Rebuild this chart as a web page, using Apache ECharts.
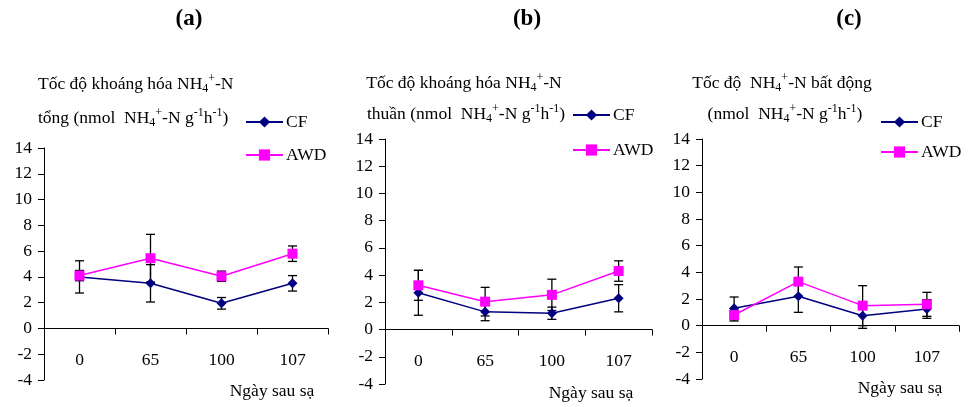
<!DOCTYPE html>
<html>
<head>
<meta charset="utf-8">
<script src="https://cdn.jsdelivr.net/npm/echarts@6/dist/echarts.min.js"></script>
<style>
html,body{margin:0;padding:0;background:#fff;}
#chart{width:968px;height:407px;}
</style>
</head>
<body>
<div id="chart"></div>
<script>
// ---- data ----
var categories = ['0', '65', '100', '107'];
var yTicks = { min: -4, max: 14, interval: 2 };

var cfA = [4.0, 3.5, 1.95, 3.5];
var cfAErr = [1.25, 1.45, 0.45, 0.6];
var awdA = [4.1, 5.45, 4.05, 5.8];
var awdAErr = [0.4, 1.85, 0.4, 0.6];

var cfB = [2.7, 1.3, 1.2, 2.3];
var cfBErr = [1.65, 0.65, 0.45, 1.0];
var awdB = [3.25, 2.05, 2.55, 4.3];
var awdBErr = [1.1, 1.05, 1.15, 0.75];

var cfC = [1.3, 2.2, 0.75, 1.25];
var cfCErr = [0.85, 1.2, 0.95, 0.7];
var awdC = [0.8, 3.3, 1.5, 1.6];
var awdCErr = [0.45, 1.1, 1.5, 0.9];

var panelLetters = ['(a)', '(b)', '(c)'];
var xName = 'Ngày sau sạ';

// ---- styling ----
var FONT = '"Liberation Serif", "Times New Roman", serif';
var CF_COLOR = '#000080';
var AWD_COLOR = '#FF00FF';

var grids = [
  { left: 44, top: 148, width: 284, height: 232 },
  { left: 385, top: 139, width: 267, height: 245 },
  { left: 702, top: 139, width: 257, height: 240 }
];

var panels = [
  { cf: cfA, cfErr: cfAErr, awd: awdA, awdErr: awdAErr },
  { cf: cfB, cfErr: cfBErr, awd: awdB, awdErr: awdBErr },
  { cf: cfC, cfErr: cfCErr, awd: awdC, awdErr: awdCErr }
];

var richStyle = {
  sub: { fontFamily: FONT, fontSize: 12, verticalAlign: 'bottom', lineHeight: 22, color: '#000' },
  sup: { fontFamily: FONT, fontSize: 12, verticalAlign: 'top', lineHeight: 22, color: '#000' }
};

function titleLine(text, left, top, align) {
  return {
    text: text, left: left, top: top, padding: 0, textAlign: align || 'left',
    textStyle: { fontFamily: FONT, fontSize: 17.5, fontWeight: 'normal', color: '#000', lineHeight: 22, rich: richStyle }
  };
}

var titles = [
  { text: panelLetters[0], left: 189, top: 8, padding: 0, textAlign: 'center', textStyle: { fontFamily: FONT, fontSize: 23, fontWeight: 'bold', color: '#000' } },
  { text: panelLetters[1], left: 527, top: 8, padding: 0, textAlign: 'center', textStyle: { fontFamily: FONT, fontSize: 23, fontWeight: 'bold', color: '#000' } },
  { text: panelLetters[2], left: 849, top: 8, padding: 0, textAlign: 'center', textStyle: { fontFamily: FONT, fontSize: 23, fontWeight: 'bold', color: '#000' } },
  titleLine('Tốc độ khoáng hóa NH{sub|4}{sup|+}-N', 38, 73),
  titleLine('tổng (nmol  NH{sub|4}{sup|+}-N g{sup|-1}h{sup|-1})', 38, 107),
  titleLine('Tốc độ khoáng hóa NH{sub|4}{sup|+}-N', 464, 72, 'center'),
  titleLine('thuần (nmol  NH{sub|4}{sup|+}-N g{sup|-1}h{sup|-1})', 466, 103, 'center'),
  titleLine('Tốc độ  NH{sub|4}{sup|+}-N bất động', 782, 72, 'center'),
  titleLine('(nmol  NH{sub|4}{sup|+}-N g{sup|-1}h{sup|-1})', 785, 103, 'center'),
  { text: xName, left: 272, top: 382, padding: 0, textAlign: 'center', textStyle: { fontFamily: FONT, fontSize: 17.5, fontWeight: 'normal', color: '#000' } },
  { text: xName, left: 591, top: 384, padding: 0, textAlign: 'center', textStyle: { fontFamily: FONT, fontSize: 17.5, fontWeight: 'normal', color: '#000' } },
  { text: xName, left: 900, top: 379, padding: 0, textAlign: 'center', textStyle: { fontFamily: FONT, fontSize: 17.5, fontWeight: 'normal', color: '#000' } }
];

var legendPos = [
  { x: 245, cfY: 113, awdY: 146 },
  { x: 572, cfY: 106, awdY: 141 },
  { x: 880, cfY: 113, awdY: 143 }
];
var legends = [];
legendPos.forEach(function (p) {
  [['CF', p.cfY], ['AWD', p.awdY]].forEach(function (it) {
    legends.push({
      data: [it[0]], left: p.x, top: it[1], padding: 0, itemWidth: 37, itemHeight: 14, itemGap: 4,
      selectedMode: false,
      textStyle: { fontFamily: FONT, fontSize: 17.5, color: '#000', padding: [0, 0, 0, -2] }
    });
  });
});

var xAxes = [], yAxes = [], series = [];
grids.forEach(function (g, i) {
  // place the category axis on the y = 0 line (offset measured from the grid bottom)
  var zeroOffset = -g.height * (0 - yTicks.min) / (yTicks.max - yTicks.min);
  xAxes.push({
    type: 'category', gridIndex: i, data: categories, boundaryGap: true,
    position: 'bottom', offset: zeroOffset,
    axisLine: { show: true, onZero: false, lineStyle: { color: '#000', width: 1 } },
    axisTick: { show: true, length: 6, lineStyle: { color: '#000' } },
    axisLabel: { fontFamily: FONT, fontSize: 17.5, color: '#000', margin: 23 },
    splitLine: { show: false }
  });
  yAxes.push({
    type: 'value', gridIndex: i, min: yTicks.min, max: yTicks.max, interval: yTicks.interval,
    axisLine: { show: true, onZero: false, lineStyle: { color: '#000', width: 1 } },
    axisTick: { show: true, length: 6, lineStyle: { color: '#000' } },
    axisLabel: { fontFamily: FONT, fontSize: 17.5, color: '#000', margin: 12 },
    splitLine: { show: false }
  });
  var p = panels[i];
  function errData(mean, err) {
    return mean.map(function (m, k) { return [k, m - err[k], m + err[k]]; });
  }
  function errSeries(mean, err) {
    return {
      type: 'custom', xAxisIndex: i, yAxisIndex: i, z: 1, silent: true,
      data: errData(mean, err),
      encode: { x: 0, y: [1, 2] },
      renderItem: function (params, api) {
        var lo = api.coord([api.value(0), api.value(1)]);
        var hi = api.coord([api.value(0), api.value(2)]);
        var hw = 4.5;
        var st = { stroke: '#000', lineWidth: 1.3 };
        return {
          type: 'group',
          children: [
            { type: 'line', shape: { x1: lo[0], y1: lo[1], x2: hi[0], y2: hi[1] }, style: st },
            { type: 'line', shape: { x1: lo[0] - hw, y1: lo[1], x2: lo[0] + hw, y2: lo[1] }, style: st },
            { type: 'line', shape: { x1: hi[0] - hw, y1: hi[1], x2: hi[0] + hw, y2: hi[1] }, style: st }
          ]
        };
      }
    };
  }
  series.push(errSeries(p.cf, p.cfErr));
  series.push(errSeries(p.awd, p.awdErr));
  series.push({
    name: 'CF', type: 'line', xAxisIndex: i, yAxisIndex: i, data: p.cf, z: 3,
    symbol: 'diamond', symbolSize: 10, color: CF_COLOR,
    lineStyle: { color: CF_COLOR, width: 1.5 }, itemStyle: { color: CF_COLOR },
    animation: false
  });
  series.push({
    name: 'AWD', type: 'line', xAxisIndex: i, yAxisIndex: i, data: p.awd, z: 4,
    symbol: 'rect', symbolSize: 10, color: AWD_COLOR,
    lineStyle: { color: AWD_COLOR, width: 1.5 }, itemStyle: { color: AWD_COLOR },
    animation: false
  });
});

var chart = echarts.init(document.getElementById('chart'), null, { renderer: 'canvas' });
chart.setOption({
  backgroundColor: '#fff',
  animation: false,
  title: titles,
  legend: legends,
  grid: grids,
  xAxis: xAxes,
  yAxis: yAxes,
  series: series
});
</script>
</body>
</html>
